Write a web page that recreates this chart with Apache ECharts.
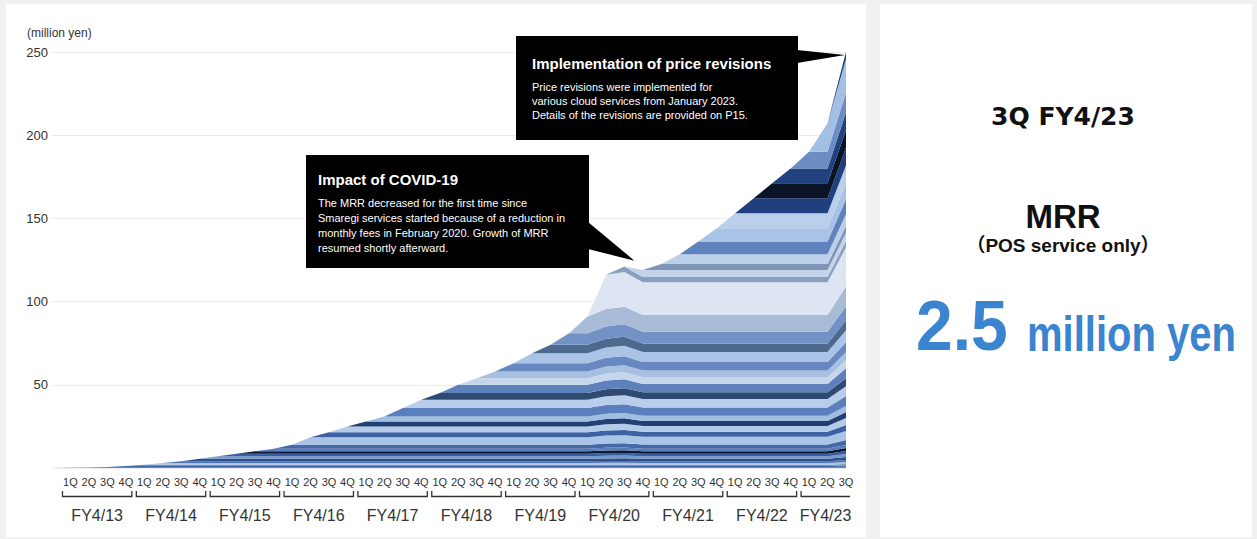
<!DOCTYPE html>
<html>
<head>
<meta charset="utf-8">
<script src="https://cdn.jsdelivr.net/npm/echarts@6/dist/echarts.min.js"></script>
<style>
  html, body { margin: 0; padding: 0; background: #f1f1f1; }
  .card { position: absolute; background: #ffffff; }
  #chart { position: absolute; left: 0; top: 0; width: 1257px; height: 539px; }
</style>
</head>
<body>
<div class="card" style="left:6px;top:4px;width:860px;height:533px;"></div>
<div class="card" style="left:880px;top:4px;width:372px;height:533px;"></div>
<div id="chart"></div>
<script>
// Quarter tick labels (first slot is the opening point before 1Q FY4/13)
const quarterLabels = ['',
  '1Q','2Q','3Q','4Q', '1Q','2Q','3Q','4Q', '1Q','2Q','3Q','4Q', '1Q','2Q','3Q','4Q',
  '1Q','2Q','3Q','4Q', '1Q','2Q','3Q','4Q', '1Q','2Q','3Q','4Q', '1Q','2Q','3Q','4Q',
  '1Q','2Q','3Q','4Q', '1Q','2Q','3Q','4Q', '1Q','2Q','3Q'];

// Fiscal-year groups under the quarter labels (first / last quarter slot of each year)
const fiscalYears = ['FY4/13','FY4/14','FY4/15','FY4/16','FY4/17','FY4/18','FY4/19','FY4/20','FY4/21','FY4/22','FY4/23'];
const fiscalYearFirstQ = [1, 5, 9, 13, 17, 21, 25, 29, 33, 37, 41];
const fiscalYearLastQ  = [4, 8, 12, 16, 20, 24, 28, 32, 36, 40, 43];

// MRR per customer cohort (million yen), from the cohort's first quarter to 3Q FY4/23
const cohort01 = [0.1,0.1,0.1,0.1,0.1, 0.1,0.1,0.1,0.1,0.1, 0.1,0.1,0.1,0.1,0.1, 0.1,0.1,0.1,0.1,0.1, 0.1,0.1,0.1,0.1,0.1, 0.1,0.1,0.1,0.1,
  0.1,0.1, 0.1,0.1,0.1,0.1,0.1, 0.1,0.1,0.1,0.1,0.1, 0.1, 0.12];
const cohort02 = [0.2,0.2,0.2,0.2,0.2, 0.2,0.2,0.2,0.2,0.2, 0.2,0.2,0.2,0.2,0.2, 0.2,0.2,0.2,0.2,0.2, 0.2,0.2,0.2,0.2,0.2, 0.2,0.2,0.2,
  0.21,0.21, 0.2,0.2,0.2,0.2,0.2, 0.2,0.2,0.2,0.2,0.2, 0.2, 0.24];
const cohort03 = [0.3,0.3,0.3,0.3,0.3, 0.3,0.3,0.3,0.3,0.3, 0.3,0.3,0.3,0.3,0.3, 0.3,0.3,0.3,0.3,0.3, 0.3,0.3,0.3,0.3,0.3, 0.3,0.3,
  0.32,0.32, 0.3,0.3,0.3,0.3,0.3, 0.3,0.3,0.3,0.3,0.3, 0.3, 0.36];
const cohort04 = [0.6,0.6,0.6,0.6,0.6, 0.6,0.6,0.6,0.6,0.6, 0.6,0.6,0.6,0.6,0.6, 0.6,0.6,0.6,0.6,0.6, 0.6,0.6,0.6,0.6,0.6, 0.6,
  0.63,0.64, 0.61,0.61,0.61,0.61,0.61, 0.61,0.61,0.61,0.61,0.61, 0.61, 0.72];
const cohort05 = [0.8,0.8,0.8,0.8,0.8, 0.8,0.8,0.8,0.8,0.8, 0.8,0.8,0.8,0.8,0.8, 0.8,0.8,0.8,0.8,0.8, 0.8,0.8,0.8,0.8,0.8,
  0.84,0.85, 0.81,0.81,0.81,0.81,0.81, 0.81,0.81,0.81,0.81,0.81, 0.81, 0.96];
const cohort06 = [1,1,1,1,1, 1,1,1,1,1, 1,1,1,1,1, 1,1,1,1,1, 1,1,1,1,
  1.05,1.07, 1.01,1.01,1.01,1.01,1.01, 1.01,1.01,1.01,1.01,1.01, 1.01, 1.2];
const cohort07 = [1,1,1,1,1, 1,1,1,1,1, 1,1,1,1,1, 1,1,1,1,1, 1,1,1,
  1.05,1.07, 1.01,1.01,1.01,1.01,1.01, 1.01,1.01,1.01,1.01,1.01, 1.01, 1.2];
const cohort08 = [1.5,1.5,1.5,1.5,1.5, 1.5,1.5,1.5,1.5,1.5, 1.5,1.5,1.5,1.5,1.5, 1.5,1.5,1.5,1.5,1.5, 1.5,1.5,
  1.58,1.6, 1.52,1.52,1.52,1.52,1.52, 1.52,1.52,1.52,1.52,1.52, 1.52, 1.8];
const cohort09 = [1.5,1.5,1.5,1.5,1.5, 1.5,1.5,1.5,1.5,1.5, 1.5,1.5,1.5,1.5,1.5, 1.5,1.5,1.5,1.5,1.5, 1.5,
  1.58,1.6, 1.52,1.52,1.52,1.52,1.52, 1.52,1.52,1.52,1.52,1.52, 1.52, 1.8];
const cohort10 = [1.5,1.5,1.5,1.5,1.5, 1.5,1.5,1.5,1.5,1.5, 1.5,1.5,1.5,1.5,1.5, 1.5,1.5,1.5,1.5,1.5,
  1.58,1.6, 1.52,1.52,1.52,1.52,1.52, 1.52,1.52,1.52,1.52,1.52, 1.52, 1.8];
const cohort11 = [1.5,1.5,1.5,1.5,1.5, 1.5,1.5,1.5,1.5,1.5, 1.5,1.5,1.5,1.5,1.5, 1.5,1.5,1.5,1.5,
  1.58,1.6, 1.52,1.52,1.52,1.52,1.52, 1.52,1.52,1.52,1.52,1.52, 1.52, 1.8];
const cohort12 = [1.5,1.5,1.5,1.5,1.5, 1.5,1.5,1.5,1.5,1.5, 1.5,1.5,1.5,1.5,1.5, 1.5,1.5,1.5,
  1.58,1.6, 1.52,1.52,1.52,1.52,1.52, 1.52,1.52,1.52,1.52,1.52, 1.52, 1.8];
const cohort13 = [2.5,2.5,2.5,2.5,2.5, 2.5,2.5,2.5,2.5,2.5, 2.5,2.5,2.5,2.5,2.5, 2.5,2.5,
  2.63,2.66, 2.53,2.53,2.53,2.53,2.53, 2.53,2.53,2.53,2.53,2.53, 2.53, 3];
const cohort14 = [4.5,4.5,4.5,4.5,4.5, 4.5,4.5,4.5,4.5,4.5, 4.5,4.5,4.5,4.5,4.5, 4.5,
  4.73,4.79, 4.55,4.55,4.55,4.55,4.55, 4.55,4.55,4.55,4.55,4.55, 4.55, 5.4];
const cohort15 = [3,3,3,3,3, 3,3,3,3,3, 3,3,3,3,3,
  3.15,3.2, 3.03,3.03,3.03,3.03,3.03, 3.03,3.03,3.03,3.03,3.03, 3.03, 3.6];
const cohort16 = [3.5,3.5,3.5,3.5,3.5, 3.5,3.5,3.5,3.5,3.5, 3.5,3.5,3.5,3.5,
  3.68,3.73, 3.54,3.54,3.54,3.54,3.54, 3.54,3.54,3.54,3.54,3.54, 3.54, 4.2];
const cohort17 = [3,3,3,3,3, 3,3,3,3,3, 3,3,3,
  3.15,3.2, 3.03,3.03,3.03,3.03,3.03, 3.03,3.03,3.03,3.03,3.03, 3.03, 3.6];
const cohort18 = [3,3,3,3,3, 3,3,3,3,3, 3,3,
  3.15,3.2, 3.03,3.03,3.03,3.03,3.03, 3.03,3.03,3.03,3.03,3.03, 3.03, 3.6];
const cohort19 = [5,5,5,5,5, 5,5,5,5,5, 5,
  5.25,5.33, 5.05,5.05,5.05,5.05,5.05, 5.05,5.05,5.05,5.05,5.05, 5.05, 6];
const cohort20 = [5,5,5,5,5, 5,5,5,5,5,
  5.25,5.33, 5.05,5.05,5.05,5.05,5.05, 5.05,5.05,5.05,5.05,5.05, 5.05, 6];
const cohort21 = [4,4,4,4,4, 4,4,4,4,
  4.2,4.26, 4.04,4.04,4.04,4.04,4.04, 4.04,4.04,4.04,4.04,4.04, 4.04, 4.8];
const cohort22 = [5,5,5,5,5, 5,5,5,
  5.25,5.33, 5.05,5.05,5.05,5.05,5.05, 5.05,5.05,5.05,5.05,5.05, 5.05, 6];
const cohort23 = [4,4,4,4,4, 4,4,
  4.2,4.26, 4.04,4.04,4.04,4.04,4.04, 4.04,4.04,4.04,4.04,4.04, 4.04, 4.8];
const cohort24 = [4,4,4,4,4, 4,
  4.2,4.26, 4.04,4.04,4.04,4.04,4.04, 4.04,4.04,4.04,4.04,4.04, 4.04, 4.8];
const cohort25 = [5,5,5,5,5,
  5.25,5.33, 5.05,5.05,5.05,5.05,5.05, 5.05,5.05,5.05,5.05,5.05, 5.05, 6];
const cohort26 = [6,6,6,6,
  6.3,6.39, 6.06,6.06,6.06,6.06,6.06, 6.06,6.06,6.06,6.06,6.06, 6.06, 7.2];
const cohort27 = [5,5,5,
  5.25,5.33, 5.05,5.05,5.05,5.05,5.05, 5.05,5.05,5.05,5.05,5.05, 5.05, 6];
const cohort28 = [7,7,
  7.35,7.46, 7.07,7.07,7.07,7.07,7.07, 7.07,7.07,7.07,7.07,7.07, 7.07, 8.4];
const cohort29 = [10,
  10.5,10.65, 10.1,10.1,10.1,10.1,10.1, 10.1,10.1,10.1,10.1,10.1, 10.1, 12];
const cohort30 = [20.5,20.8, 19.7,19.7,19.7,19.7,19.7, 19.7,19.7,19.7,19.7,19.7, 19.7, 23.4];
const cohort31 = [3.3, 3.13,3.13,3.13,3.13,3.13, 3.13,3.13,3.13,3.13,3.13, 3.13, 3.72];
const cohort32 = [4.24,4.24,4.24,4.24,4.24, 4.24,4.24,4.24,4.24,4.24, 4.24, 5.04];
const cohort33 = [3.54,3.54,3.54,3.54,3.54, 3.54,3.54,3.54,3.54,3.54, 4.2];
const cohort34 = [5.96,5.96,5.96,5.96,5.96, 5.96,5.96,5.96,5.96, 7.08];
const cohort35 = [7.58,7.58,7.58,7.58,7.58, 7.58,7.58,7.58, 9];
const cohort36 = [7.98,7.98,7.98,7.98,7.98, 7.98,7.98, 9.48];
const cohort37 = [8.99,8.99,8.99,8.99,8.99, 8.99, 10.68];
const cohort38 = [8.99,8.99,8.99,8.99,8.99, 10.68];
const cohort39 = [8.99,8.99,8.99,8.99, 10.68];
const cohort40 = [8.99,8.99,8.99, 10.68];
const cohort41 = [10,10, 11.88];
const cohort42 = [17.07, 20.28];
const cohort43 = [3.96];

const cohorts = [cohort01, cohort02, cohort03, cohort04, cohort05, cohort06, cohort07, cohort08, cohort09, cohort10,
  cohort11, cohort12, cohort13, cohort14, cohort15, cohort16, cohort17, cohort18, cohort19, cohort20,
  cohort21, cohort22, cohort23, cohort24, cohort25, cohort26, cohort27, cohort28, cohort29, cohort30,
  cohort31, cohort32, cohort33, cohort34, cohort35, cohort36, cohort37, cohort38, cohort39, cohort40,
  cohort41, cohort42, cohort43];

const cohortColors = ['#3b62a4','#6d90c7','#24457f','#3f66a8','#6d90c7','#a9c3e5','#4d73b1','#2c4f8e','#7598cc','#3a5f9f',
  '#0e1a33','#5a7ebb','#4469a9','#a9c4e6','#3d62a3','#b3cbe9','#233f73','#a0bde2','#5b7fbc','#b7cde9',
  '#2e4a70','#5e81bc','#c6d6eb','#a7c0e2','#6888c1','#abc4e5','#4d6a8e','#7292c6','#a8bcd8','#dce5f1',
  '#8a9fbf','#c2d3ea','#7f95b5','#bcd0ea','#5f82bd','#a8c3e6','#b9cfea','#1f3f7f','#0b1326','#21427f',
  '#6c8cc2','#a3bfe3','#1a3a78'];

const FONT = 'Liberation Sans, "Noto Sans CJK JP", sans-serif';

const chart = echarts.init(document.getElementById('chart'), null, { renderer: 'svg' });

const series = cohorts.map((row, k) => ({
  name: 'cohort' + (k + 1),
  type: 'line',
  stack: 'mrr',
  data: new Array(quarterLabels.length - row.length).fill(0).concat(row),
  symbol: 'none',
  showSymbol: false,
  silent: true,
  lineStyle: { width: 0, opacity: 0 },
  areaStyle: { color: cohortColors[k], opacity: 1 }
}));

chart.setOption({
  backgroundColor: 'transparent',
  animation: false,
  textStyle: { fontFamily: FONT },
  grid: { left: 52, right: 411, top: 52, bottom: 71 },
  xAxis: {
    type: 'category',
    data: quarterLabels,
    boundaryGap: false,
    axisLine: { show: false },
    axisTick: { show: false },
    axisLabel: { interval: 0, fontSize: 11, color: '#333', margin: 8, fontFamily: FONT }
  },
  yAxis: {
    type: 'value',
    min: 0, max: 250, interval: 50,
    axisLine: { show: false },
    axisTick: { show: false },
    splitLine: { lineStyle: { color: '#ececec', width: 1 } },
    axisLabel: {
      fontSize: 13, color: '#333', margin: 4, fontFamily: FONT,
      formatter: v => (v === 0 ? '' : String(v))
    }
  },
  series: series
});

// Annotations and fiscal-year brackets placed through the chart's own scales
const px = (i, v) => chart.convertToPixel({ xAxisIndex: 0, yAxisIndex: 0 }, [i, v]);
const xOf = i => chart.convertToPixel({ xAxisIndex: 0 }, i);

const g = [];
function txt(text, x, y, opt) {
  g.push({
    type: 'text', z: 100,
    style: Object.assign({
      text: text, x: x, y: y, fill: '#333', font: '13px ' + FONT,
      textAlign: 'left', align: 'left', textVerticalAlign: 'middle', verticalAlign: 'middle'
    }, opt || {})
  });
}

// unit label
txt('(million yen)', 27, 33, { font: '12px ' + FONT, fill: '#333' });

// fiscal-year brackets and labels
fiscalYears.forEach((fy, k) => {
  const x1 = xOf(fiscalYearFirstQ[k]) - 8;
  const last = k === fiscalYears.length - 1;
  const x2 = xOf(fiscalYearLastQ[k]) + (last ? 4 : 6);
  const pts = last ? [[x1, 491], [x1, 496.5], [x2, 496.5]] : [[x1, 491], [x1, 496.5], [x2, 496.5], [x2, 491]];
  g.push({ type: 'polyline', z: 100, shape: { points: pts }, style: { stroke: '#333', lineWidth: 1.3, fill: null } });
  txt(fy, (x1 + x2) / 2, 515, { font: '16px ' + FONT, textAlign: 'center', align: 'center' });
});

// callout: price revisions
const tipA = px(43, 250);
g.push({ type: 'rect', z: 100, shape: { x: 516, y: 36, width: 282, height: 104 }, style: { fill: '#000' } });
g.push({ type: 'polygon', z: 100, shape: { points: [[797, 50], [797, 63], [tipA[0] - 1, tipA[1] + 3]] }, style: { fill: '#000' } });
txt('Implementation of price revisions', 532, 63, { fill: '#fff', font: 'bold 15px ' + FONT });
txt('Price revisions were implemented for\nvarious cloud services from January 2023.\nDetails of the revisions are provided on P15.',
  532, 79.5, { fill: '#fff', font: '11px ' + FONT, lineHeight: 14.3, textVerticalAlign: 'top', verticalAlign: 'top' });

// callout: COVID-19
const tipB = px(31, 121);
g.push({ type: 'rect', z: 100, shape: { x: 306, y: 155, width: 283, height: 113 }, style: { fill: '#000' } });
g.push({ type: 'polygon', z: 100, shape: { points: [[588, 222], [588, 249], [tipB[0] + 10, tipB[1] - 6]] }, style: { fill: '#000' } });
txt('Impact of COVID-19', 318, 179, { fill: '#fff', font: 'bold 15px ' + FONT });
txt('The MRR decreased for the first time since\nSmaregi services started because of a reduction in\nmonthly fees in February 2020. Growth of MRR\nresumed shortly afterward.',
  318, 195.5, { fill: '#fff', font: '11px ' + FONT, lineHeight: 15, textVerticalAlign: 'top', verticalAlign: 'top' });

// right-hand summary panel
txt('3Q FY4/23', 1063, 116, { fill: '#111', font: 'bold 25px "DejaVu Sans", sans-serif', textAlign: 'center', align: 'center' });
txt('MRR', 1063, 216, { fill: '#111', font: 'bold 33px ' + FONT, textAlign: 'center', align: 'center' });
txt('（POS service only）', 1063, 245, { fill: '#111', font: 'bold 19px ' + FONT, textAlign: 'center', align: 'center' });
g.push({ type: 'text', z: 100, x: 916, y: 325.5, scaleX: 0.93, style: { text: '2.5', x: 0, y: 0, fill: '#3a84d0', font: 'bold 71px ' + FONT, textAlign: 'left', align: 'left', textVerticalAlign: 'middle', verticalAlign: 'middle' } });
g.push({ type: 'text', z: 100, x: 1027, y: 333.5, scaleX: 0.8, style: { text: 'million yen', x: 0, y: 0, fill: '#3a84d0', font: 'bold 50px ' + FONT, textAlign: 'left', align: 'left', textVerticalAlign: 'middle', verticalAlign: 'middle' } });

chart.setOption({ graphic: { elements: g } });
</script>
</body>
</html>
